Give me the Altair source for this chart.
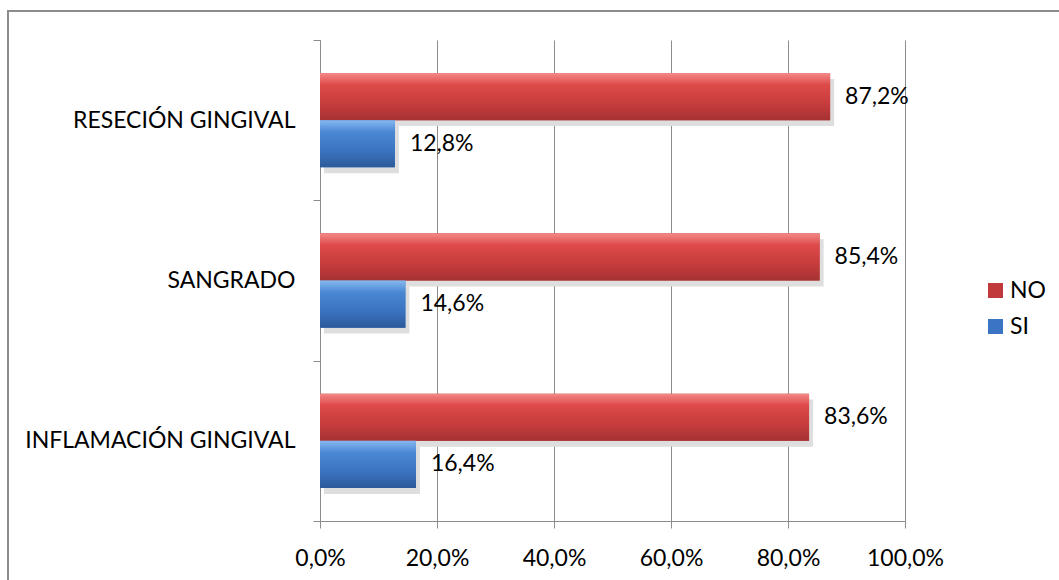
import altair as alt
import pandas as pd

# Categorías y porcentajes por respuesta
categorias = ["RESECIÓN GINGIVAL", "SANGRADO", "INFLAMACIÓN GINGIVAL"]
respuestas = ["NO", "SI"]
valores_no = [87.2, 85.4, 83.6]
valores_si = [12.8, 14.6, 16.4]

filas = []
for cat, v_no, v_si in zip(categorias, valores_no, valores_si):
    filas.append({"categoria": cat, "respuesta": "NO", "valor": v_no})
    filas.append({"categoria": cat, "respuesta": "SI", "valor": v_si})
df = pd.DataFrame(filas)

FUENTE = "Lato"
TAM = 23
GRIS = "#8c8c8c"

y_enc = alt.Y(
    "categoria:N",
    sort=categorias,
    title=None,
    scale=alt.Scale(type="band", domain=categorias, paddingInner=0, paddingOuter=0),
    axis=alt.Axis(
        tickBand="extent",
        tickSize=7,
        tickColor=GRIS,
        domainColor=GRIS,
        labelFontSize=TAM,
        labelFont=FUENTE,
        labelColor="black",
        labelPadding=18,
        labelLimit=320,
        grid=False,
    ),
)
yoff_enc = alt.YOffset(
    "respuesta:N",
    scale=alt.Scale(type="band", domain=respuestas, paddingInner=0, paddingOuter=0.7),
)
# Sombra: el relleno exterior se reparte con más peso arriba para bajarla unos píxeles
yoff_sombra = alt.YOffset(
    "respuesta:N",
    scale=alt.Scale(
        type="band", domain=respuestas, paddingInner=0, paddingOuter=0.7, align=0.59
    ),
)
x_enc = alt.X(
    "valor:Q",
    title=None,
    scale=alt.Scale(domain=[0, 100], nice=False),
    axis=alt.Axis(
        values=[0, 20, 40, 60, 80, 100],
        labelExpr="replace(format(datum.value, '.1f'), '.', ',') + '%'",
        labelFlush=False,
        tickSize=7,
        tickColor=GRIS,
        domainColor=GRIS,
        gridColor=GRIS,
        gridOpacity=1,
        labelFontSize=TAM,
        labelFont=FUENTE,
        labelColor="black",
        labelPadding=19,
    ),
)

base = alt.Chart(df)

# Sombra suave de las barras
sombra = base.mark_bar(color="#dedede", xOffset=4).encode(
    x=x_enc, y=y_enc, yOffset=yoff_sombra
)

barras = base.mark_bar().encode(
    x=x_enc,
    y=y_enc,
    yOffset=yoff_enc,
    color=alt.Color(
        "respuesta:N",
        scale=alt.Scale(domain=respuestas, range=["#c0393b", "#3b74c2"]),
        legend=alt.Legend(
            title=None,
            orient="none",
            legendX=664,
            legendY=239,
            symbolType="square",
            symbolSize=225,
            symbolStrokeWidth=0,
            labelFontSize=TAM,
            labelFont=FUENTE,
            labelColor="black",
            rowPadding=12,
            labelOffset=3,
        ),
    ),
)

grad_rojo = alt.LinearGradient(
    gradient="linear", x1=0, x2=0, y1=0, y2=1,
    stops=[
        alt.GradientStop(color="#f28a88", offset=0),
        alt.GradientStop(color="#de4a4a", offset=0.25),
        alt.GradientStop(color="#c73c3c", offset=0.65),
        alt.GradientStop(color="#a53232", offset=1),
    ],
)
grad_azul = alt.LinearGradient(
    gradient="linear", x1=0, x2=0, y1=0, y2=1,
    stops=[
        alt.GradientStop(color="#86b8f0", offset=0),
        alt.GradientStop(color="#4a88d3", offset=0.25),
        alt.GradientStop(color="#3b73c0", offset=0.65),
        alt.GradientStop(color="#2c5a9a", offset=1),
    ],
)

relleno_no = base.transform_filter(alt.datum.respuesta == "NO").mark_bar(
    color=grad_rojo
).encode(x=x_enc, y=y_enc, yOffset=yoff_enc)
relleno_si = base.transform_filter(alt.datum.respuesta == "SI").mark_bar(
    color=grad_azul
).encode(x=x_enc, y=y_enc, yOffset=yoff_enc)

etiquetas = base.transform_calculate(
    texto="replace(format(datum.valor, '.1f'), '.', ',') + '%'"
).mark_text(
    align="left", baseline="middle", dx=15, fontSize=TAM, font=FUENTE, color="black"
).encode(x=x_enc, y=y_enc, yOffset=yoff_enc, text="texto:N")

marco = alt.Chart(alt.Data(values=[{}])).mark_rect(
    fill=None, stroke=GRIS, strokeWidth=2
).encode(
    x=alt.value(-312), x2=alt.value(760), y=alt.value(-29), y2=alt.value(580)
)

chart = alt.layer(
    sombra, barras, relleno_no, relleno_si, etiquetas, marco
).resolve_scale(yOffset="independent").properties(
    width=585,
    height=481,
    autosize="none",
    padding={"left": 320, "top": 40, "right": 154, "bottom": 59},
    background="white",
).configure_view(stroke=None)

chart.save("out.html", embed_options={"renderer": "svg", "actions": False})
